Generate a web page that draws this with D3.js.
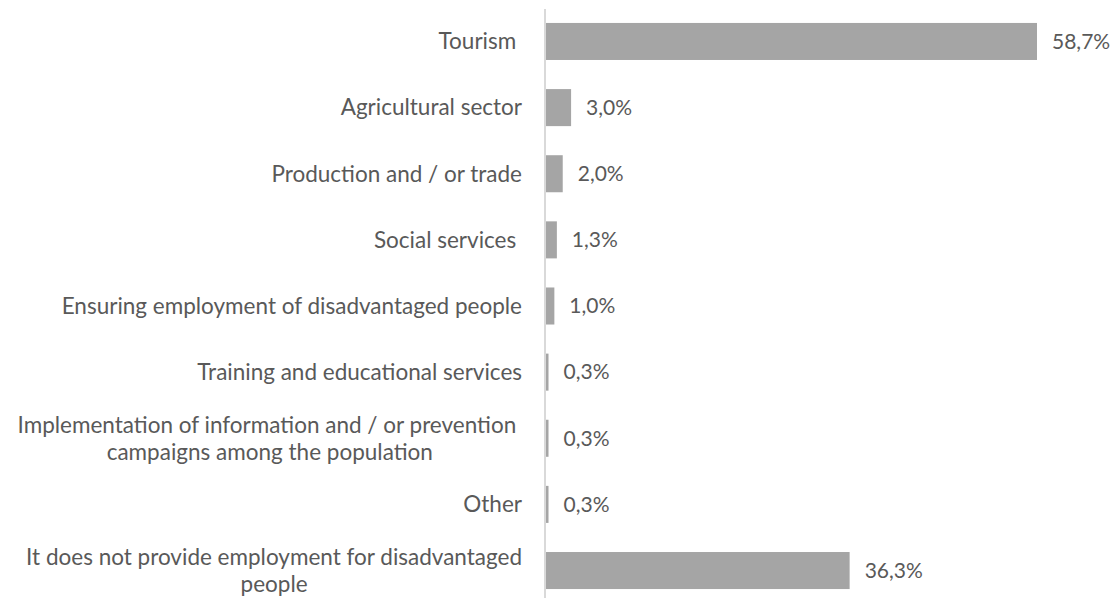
<!DOCTYPE html>
<html>
<head>
<meta charset="utf-8">
<script src="https://cdn.jsdelivr.net/npm/d3@7"></script>
<style>
  html, body { margin: 0; padding: 0; background: #fff; }
  svg text { font-family: Lato, "Open Sans", sans-serif; fill: #595959; white-space: pre; }
</style>
</head>
<body>
<svg id="chart" width="1115" height="598"></svg>
<script>
// Fields of activity (each label may hold several lines)
const categories = [
  ["Tourism "],
  ["Agricultural sector"],
  ["Production and / or trade"],
  ["Social services "],
  ["Ensuring employment of disadvantaged people"],
  ["Training and educational services"],
  ["Implementation of information and / or prevention ", "campaigns among the population"],
  ["Other"],
  ["It does not provide employment for disadvantaged", "people"]
];
// Share of respondents, %
const values = [58.7, 3.0, 2.0, 1.3, 1.0, 0.3, 0.3, 0.3, 36.3];
const valueLabels = ["58,7%", "3,0%", "2,0%", "1,3%", "1,0%", "0,3%", "0,3%", "0,3%", "36,3%"];

const svg = d3.select("#chart");
const x0 = 546;
const x = d3.scaleLinear().domain([0, 58.7]).range([x0, 1037]);
const y = d3.scaleBand()
  .domain(d3.range(categories.length))
  .range([8.4, 603.6])
  .paddingInner(0.44)
  .paddingOuter(0.22);

const catFont = 22.5;
const valFont = 21;

// Bars
svg.append("g").selectAll("rect")
  .data(values)
  .join("rect")
  .attr("x", x0)
  .attr("y", (d, i) => y(i))
  .attr("width", d => x(d) - x0)
  .attr("height", y.bandwidth())
  .attr("fill", "#a5a5a5");

// Category axis line
svg.append("line")
  .attr("x1", 545).attr("x2", 545)
  .attr("y1", 9).attr("y2", 598)
  .attr("stroke", "#d9d9d9")
  .attr("stroke-width", 2);

// Value labels
svg.append("g").selectAll("text")
  .data(values)
  .join("text")
  .attr("x", d => x(d) + 15)
  .attr("y", (d, i) => y(i) + y.bandwidth() / 2)
  .attr("dy", "0.35em")
  .style("font-size", valFont + "px")
  .text((d, i) => valueLabels[i]);

// Category labels: right-aligned block, lines centred within the block
const lineH = 27;
const right = 522;
const labels = svg.append("g");
categories.forEach((lines, i) => {
  const cy = y(i) + y.bandwidth() / 2;
  const g = labels.append("g");
  const texts = lines.map((ln, j) => g.append("text")
    .attr("y", cy + (j - (lines.length - 1) / 2) * lineH)
    .attr("dy", "0.35em")
    .style("font-size", catFont + "px")
    .text(ln));
  const widths = texts.map(t => t.node().getComputedTextLength());
  const maxW = d3.max(widths);
  const center = right - maxW / 2;
  texts.forEach(t => t.attr("x", center).attr("text-anchor", "middle"));
});
</script>
</body>
</html>
